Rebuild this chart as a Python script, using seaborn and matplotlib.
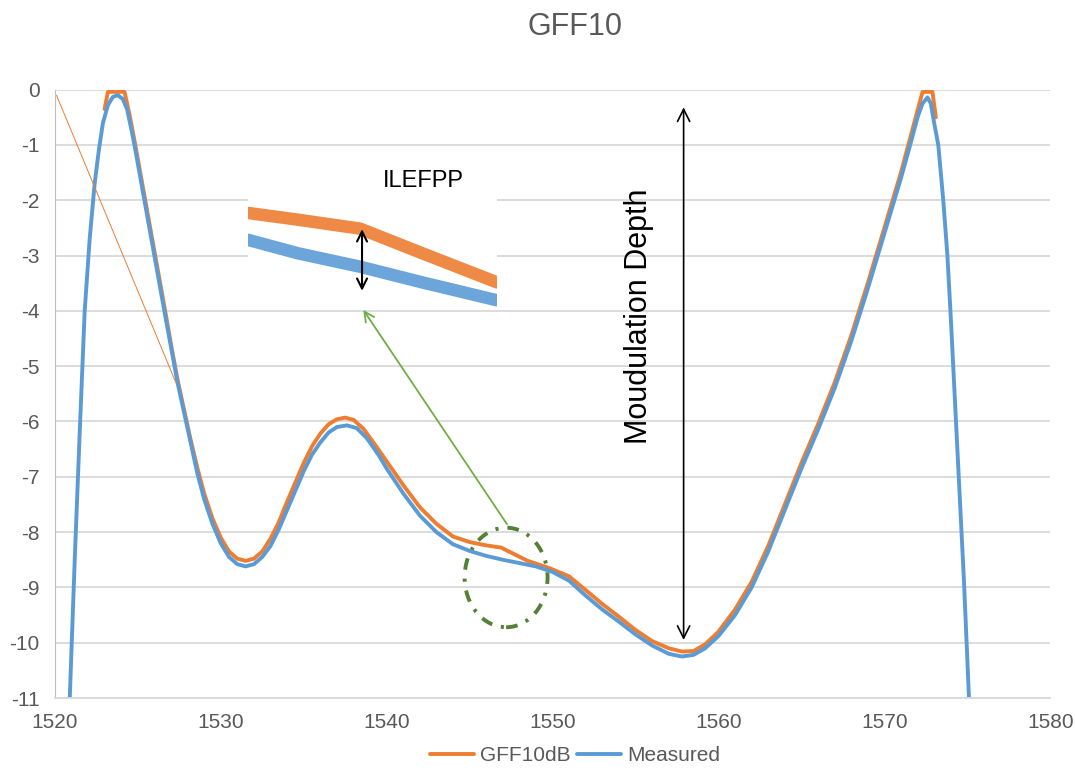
import pandas as pd
import matplotlib.pyplot as plt
import seaborn as sns
from matplotlib.patches import Ellipse

# wavelength (nm) and loss (dB)
measured_x = [1520.9, 1521.2, 1521.5, 1521.8, 1522.1, 1522.4, 1522.65, 1522.9, 1523.2, 1523.5,
              1523.8, 1524.1, 1524.35, 1524.6, 1524.8, 1525.1, 1525.4, 1525.7, 1526.0, 1526.3,
              1526.6, 1527.0, 1527.4, 1527.8, 1528.2, 1528.6, 1529.0, 1529.5, 1530.0, 1530.5,
              1531.0, 1531.5, 1532.0, 1532.5, 1533.0, 1533.5, 1534.0, 1534.5, 1535.0, 1535.5,
              1536.0, 1536.5, 1537.0, 1537.6, 1538.2, 1538.8, 1539.5, 1540.0, 1541.0, 1542.0,
              1543.0, 1544.0, 1545.0, 1546.0, 1547.0, 1548.0, 1549.0, 1550.0, 1551.0, 1552.0,
              1553.0, 1554.0, 1555.0, 1556.0, 1557.0, 1557.8, 1558.5, 1559.2, 1560.0, 1561.0,
              1562.0, 1563.0, 1564.0, 1565.0, 1566.0, 1567.0, 1568.0, 1569.0, 1570.0, 1571.0,
              1571.6, 1572.0, 1572.3, 1572.6, 1572.8, 1573.0, 1573.25, 1573.55, 1573.8, 1574.0,
              1574.25, 1574.5, 1574.8, 1575.1]
measured_y = [-11.0, -8.5, -6.2, -4.0, -2.7, -1.7, -1.1, -0.6, -0.28, -0.13,
              -0.1, -0.17, -0.35, -0.7, -1.0, -1.5, -2.0, -2.5, -3.0, -3.5,
              -4.0, -4.65, -5.3, -5.85, -6.4, -6.95, -7.4, -7.85, -8.2, -8.45,
              -8.58, -8.62, -8.58, -8.45, -8.25, -7.95, -7.6, -7.25, -6.9, -6.6,
              -6.38, -6.2, -6.1, -6.07, -6.12, -6.3, -6.6, -6.85, -7.3, -7.7,
              -8.0, -8.22, -8.34, -8.43, -8.5, -8.56, -8.62, -8.72, -8.88, -9.15,
              -9.4, -9.62, -9.85, -10.05, -10.2, -10.25, -10.22, -10.1, -9.88, -9.5,
              -9.0, -8.35, -7.6, -6.85, -6.15, -5.4, -4.55, -3.6, -2.6, -1.6,
              -0.95, -0.5, -0.25, -0.14, -0.25, -0.6, -1.0, -2.0, -3.0, -4.1,
              -5.6, -7.1, -8.9, -11.0]

gff_x = [1523.0, 1523.2, 1524.2, 1524.5, 1524.85, 1525.15, 1525.45, 1525.75, 1526.05, 1526.35,
         1526.65, 1527.0, 1527.4, 1527.8, 1528.2, 1528.6, 1529.0, 1529.5, 1530.0, 1530.5,
         1531.0, 1531.5, 1532.0, 1532.5, 1533.0, 1533.5, 1534.0, 1534.5, 1535.0, 1535.5,
         1536.0, 1536.5, 1537.0, 1537.5, 1538.0, 1538.6, 1539.3, 1540.0, 1541.0, 1542.0,
         1543.0, 1544.0, 1545.0, 1546.0, 1546.9, 1547.5, 1548.5, 1549.8, 1551.0, 1552.0,
         1553.0, 1554.0, 1555.0, 1556.0, 1557.0, 1557.8, 1558.5, 1559.2, 1560.0, 1561.0,
         1562.0, 1563.0, 1564.0, 1565.0, 1566.0, 1567.0, 1568.0, 1569.0, 1570.0, 1571.0,
         1571.8, 1572.3, 1572.9, 1573.1]
gff_y = [-0.35, -0.04, -0.04, -0.45, -1.0, -1.5, -2.0, -2.5, -3.0, -3.5,
         -4.0, -4.6, -5.25, -5.8, -6.35, -6.85, -7.3, -7.75, -8.1, -8.35,
         -8.48, -8.52, -8.48, -8.35, -8.12, -7.82, -7.45, -7.1, -6.75, -6.45,
         -6.22, -6.05, -5.96, -5.93, -5.97, -6.13, -6.42, -6.72, -7.15, -7.55,
         -7.85, -8.08, -8.18, -8.24, -8.28, -8.37, -8.52, -8.65, -8.8, -9.05,
         -9.3, -9.53, -9.77, -9.97, -10.1, -10.16, -10.15, -10.03, -9.8, -9.4,
         -8.9, -8.25, -7.5, -6.75, -6.05, -5.3, -4.45, -3.5, -2.5, -1.5,
         -0.6, -0.04, -0.04, -0.5]

# stray thin segment of the GFF10dB trace
thin_x = [1520.1, 1527.3]
thin_y = [-0.1, -5.3]

# zoomed detail (inset, arbitrary units)
inset_x = [0.0, 0.2, 0.45, 0.7, 1.0]
inset_gff = [0.84, 0.78, 0.70, 0.48, 0.22]
inset_meas = [0.60, 0.48, 0.36, 0.22, 0.06]

x_ticks = [1520, 1530, 1540, 1550, 1560, 1570, 1580]
y_ticks = list(range(0, -12, -1))

orange = '#ED7D31'
blue = '#5B9BD5'
grey_text = '#595959'

sns.set_style('whitegrid')
plt.rcParams['font.family'] = ['Liberation Sans', 'DejaVu Sans']
plt.rcParams['axes.unicode_minus'] = False

df = pd.concat([
    pd.DataFrame({'Wavelength': gff_x, 'Loss': gff_y, 'Series': 'GFF10dB'}),
    pd.DataFrame({'Wavelength': measured_x, 'Loss': measured_y, 'Series': 'Measured'}),
])

fig = plt.figure(figsize=(10.75, 7.73), dpi=100)
ax = fig.add_axes([0.051, 0.097, 0.926, 0.787])

sns.lineplot(data=df, x='Wavelength', y='Loss', hue='Series', sort=False,
             palette={'GFF10dB': orange, 'Measured': blue}, linewidth=2.8, ax=ax, legend=False)
sns.lineplot(x=thin_x, y=thin_y, color=orange, linewidth=0.7, ax=ax, legend=False)

ax.set_xlim(1520, 1580)
ax.set_ylim(-11, 0)
ax.set_xticks(x_ticks)
ax.set_yticks(y_ticks)
ax.set_xlabel('')
ax.set_ylabel('')
ax.grid(axis='x', visible=False)
ax.grid(axis='y', color='#d9d9d9', linewidth=1.3)
ax.tick_params(axis='both', length=0, labelsize=15, colors=grey_text, pad=11)
for side in ['top', 'right']:
    ax.spines[side].set_visible(False)
ax.spines['left'].set_color('#bfbfbf')
ax.spines['bottom'].set_color('#d9d9d9')
ax.spines['bottom'].set_linewidth(1.3)

fig.suptitle('GFF10', x=0.535, y=0.985, fontsize=22, color=grey_text)

# modulation depth arrow and label
ax.annotate('', xy=(1557.9, -0.27), xytext=(1557.9, -10.0),
            arrowprops=dict(arrowstyle='<->', color='black', lw=1.2, mutation_scale=22))
ax.text(1555.2, -4.1, 'Moudulation Depth', rotation=90, ha='center', va='center',
        fontsize=22, color='black')

# dash-dot circle and pointer to the inset
ax.add_patch(Ellipse((1547.2, -8.82), 5.0, 1.8, fill=False, edgecolor='#548235',
                     linestyle=(0, (3, 2.3, 0.8, 2.3)), linewidth=2.8))
ax.annotate('', xy=(1538.5, -3.94), xytext=(1547.35, -7.9),
            arrowprops=dict(arrowstyle='->', color='#70AD47', lw=1.3, mutation_scale=18))
ax.text(1542.2, -1.66, 'ILEFPP', ha='center', va='center', fontsize=17, color='black')

# inset with the zoomed detail
ins = fig.add_axes([0.2307, 0.6028, 0.2316, 0.1449])
sns.lineplot(x=inset_x, y=inset_gff, color=orange, linewidth=9, alpha=0.9, ax=ins)
sns.lineplot(x=inset_x, y=inset_meas, color=blue, linewidth=9, alpha=0.9, ax=ins)
ins.annotate('', xy=(0.458, 0.72), xytext=(0.458, 0.12),
             arrowprops=dict(arrowstyle='<->', color='black', lw=1.5, mutation_scale=18))
ins.set_xlim(0, 1)
ins.set_ylim(0, 1)
ins.set_facecolor('white')
ins.grid(False)
ins.set_xticks([])
ins.set_yticks([])
for s in ins.spines.values():
    s.set_visible(False)

# legend at the bottom
handles = [plt.Line2D([], [], color=orange, lw=2.8), plt.Line2D([], [], color=blue, lw=2.8)]
fig.legend(handles, ['GFF10dB', 'Measured'], loc='lower center', ncol=2, frameon=False,
           bbox_to_anchor=(0.535, -0.014), fontsize=15, handlelength=2.1,
           handletextpad=0.3, columnspacing=0.3, labelcolor=grey_text)

fig.savefig('out.png', dpi=100)
